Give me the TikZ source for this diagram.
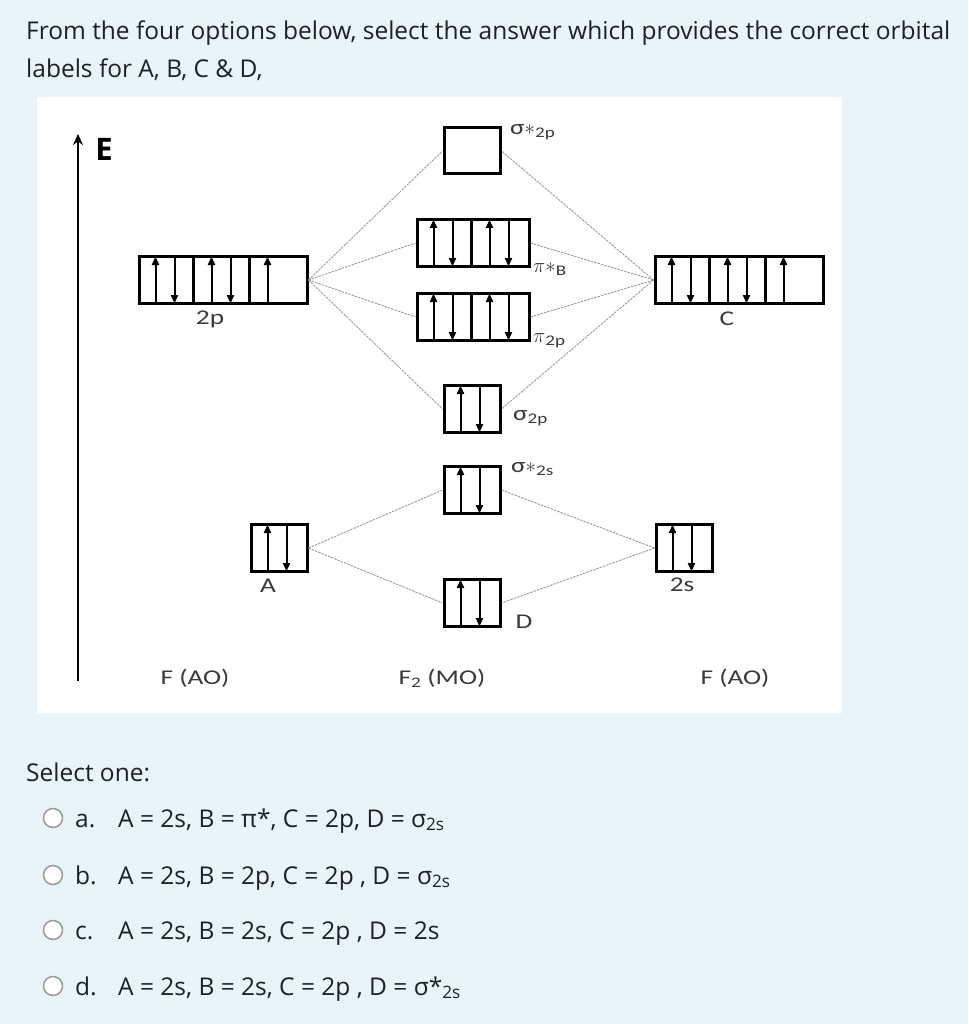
\documentclass[tikz,border=0pt]{standalone}
\usepackage{fontspec}
\setmainfont{Open Sans}
\newfontfamily\diafont[FakeStretch=1.3]{Carlito}
\usetikzlibrary{arrows.meta}
\definecolor{pagebg}{HTML}{E8F4F7}
\definecolor{ink}{HTML}{1D2125}
\definecolor{labgray}{HTML}{3A3A3A}
\definecolor{linkgray}{HTML}{9C9C9C}
\tikzset{
  orb/.style={draw, line width=3pt, inner sep=0pt, minimum height=47pt, minimum width=56pt},
  spin/.style={line width=2pt, -{Triangle[length=8.5pt,width=7pt]}, shorten >=1.5pt, shorten <=1.5pt},
  link/.style={draw=linkgray, line width=0.9pt, dash pattern=on 2.5pt off 1pt},
  lbl/.style={font=\diafont\fontsize{21}{24}\selectfont, text=labgray, inner sep=0pt},
  txt/.style={font=\fontsize{24.5}{30}\selectfont, text=ink, inner sep=0pt, anchor=base west},
  radio/.style={draw=gray!80, fill=white, line width=1.5pt, circle, minimum size=19pt, inner sep=0pt},
}
% one cell of a box: paired (up and down) or single (up)
\newcommand{\cellud}[2]{%
  \draw[spin] ([xshift=#2*56+18]#1.south west) -- ([xshift=#2*56+18]#1.north west);
  \draw[spin] ([xshift=#2*56+37]#1.north west) -- ([xshift=#2*56+37]#1.south west);}
\newcommand{\cellu}[2]{%
  \draw[spin] ([xshift=#2*56+18]#1.south west) -- ([xshift=#2*56+18]#1.north west);}
\newcommand{\divider}[2]{%
  \draw[line width=3pt] ([xshift=#2*56]#1.north west) -- ([xshift=#2*56]#1.south west);}
\newcommand{\orbstar}{$\ast$}

\begin{document}
\begin{tikzpicture}[x=1pt,y=-1pt]
  \fill[pagebg] (0,0) rectangle (968,1024);
  \useasboundingbox (0,0) rectangle (968,1024);
  \fill[white] (37,97) rectangle (842,713);

  % question
  \node[txt] (q1) at (26,40) {From the four options below, select the answer which provides the correct orbital};
  \node[txt] (q2) at (26,78) {labels for A, B, C \& D,};

  % energy axis
  \coordinate (ebot) at (78,681);
  \coordinate (etop) at (78,134);
  \draw[line width=2.5pt, -{Stealth[length=11pt,width=10pt]}] (ebot) -- (etop);
  \node[font=\bfseries\fontsize{31}{34}\selectfont, inner sep=0pt] (elab) at (104,149) {E};

  % atomic orbitals
  \node[orb, minimum width=168pt] (L2p) at (223,280) {};
  \node[orb, minimum width=168pt] (R2p) at (739,280) {};
  \node[orb] (L2s) at (279,548) {};
  \node[orb] (R2s) at (684,548) {};
  % molecular orbitals
  \node[orb, minimum height=46pt] (sg2ps) at (472,151) {};
  \node[orb, minimum width=112pt] (pis) at (473,243) {};
  \node[orb, minimum width=112pt] (pib) at (473,317) {};
  \node[orb] (sg2p) at (472,409) {};
  \node[orb] (sg2ss) at (472,490) {};
  \node[orb] (sg2s) at (472,603) {};

  \foreach \n in {L2p,R2p} {
    \divider{\n}{1} \divider{\n}{2}
    \cellud{\n}{0} \cellud{\n}{1} \cellu{\n}{2}
  }
  \foreach \n in {pis,pib} {
    \divider{\n}{1}
    \cellud{\n}{0} \cellud{\n}{1}
  }
  \foreach \n in {sg2p,sg2ss,sg2s,L2s,R2s} \cellud{\n}{0};

  % correlation lines
  \foreach \m in {sg2ps,pis,pib,sg2p} {
    \draw[link] (L2p.east) -- (\m.west);
    \draw[link] (R2p.west) -- (\m.east);
  }
  \foreach \m in {sg2ss,sg2s} {
    \draw[link] (L2s.east) -- (\m.west);
    \draw[link] (R2s.west) -- (\m.east);
  }

  % labels
  \node[lbl] (l2plab) at (210,319) {2p};
  \node[lbl] (r2plab) at (727,319) {C};
  \node[lbl] (l2slab) at (268,586) {A};
  \node[lbl] (r2slab) at (682,585) {2s};
  \node[lbl] (dlab) at (524,622) {D};
  \node[lbl, anchor=west] (sg2pslab) at (510,132) {σ\orbstar\textsubscript{2p}};
  \node[lbl, anchor=west] (pislab) at (533,269) {$\pi$\orbstar\textsubscript{B}};
  \node[lbl, anchor=west] (pilab) at (533,341) {$\pi$\textsubscript{2p}};
  \node[lbl, anchor=west] (sg2plab) at (513,418) {σ\textsubscript{2p}};
  \node[lbl, anchor=west] (sg2sslab) at (511,469) {σ\orbstar\textsubscript{2s}};
  \node[lbl] (fl) at (195,678) {F (AO)};
  \node[lbl] (fm) at (442,678) {F\textsubscript{2} (MO)};
  \node[lbl] (fr) at (735,678) {F (AO)};

  % answers
  \node[txt] (sel) at (26,781) {Select one:};
  \foreach \y/\k/\t in {818/a/{A = 2s, B = π*, C = 2p, D = σ\textsubscript{2s}},
                        875/b/{A = 2s, B = 2p, C = 2p , D = σ\textsubscript{2s}},
                        930/c/{A = 2s, B = 2s, C = 2p , D = 2s},
                        986/d/{A = 2s, B = 2s, C = 2p , D = σ*\textsubscript{2s}}} {
    \node[radio] (r\k) at (53,\y) {};
    \node[txt] (k\k) at (75,\y+9) {\k.};
    \node[txt] (t\k) at (118,\y+9) {\t};
  }
\end{tikzpicture}
\end{document}
